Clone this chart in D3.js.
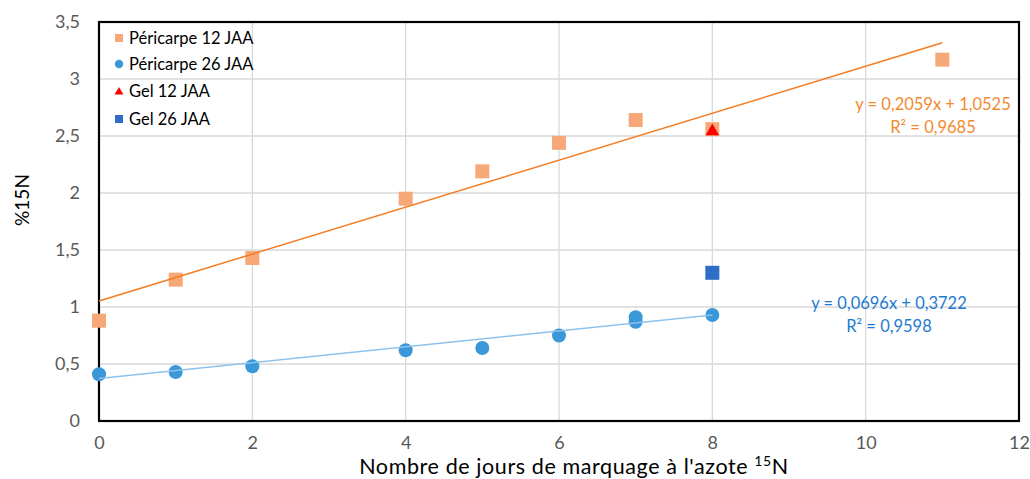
<!DOCTYPE html>
<html><head><meta charset="utf-8">
<script src="https://cdn.jsdelivr.net/npm/d3@7"></script>
<style>body{margin:0;background:#fff;} svg{display:block;font-family:Lato,"Open Sans",sans-serif;}</style>
</head><body>
<svg id="chart" width="1030" height="479"></svg>
<script>
// Data
const pericarpe12X = [0, 1, 2, 4, 5, 6, 7, 8, 11];
const pericarpe12Y = [0.88, 1.24, 1.43, 1.95, 2.19, 2.44, 2.64, 2.56, 3.17];
const pericarpe26X = [0, 1, 2, 4, 5, 6, 7, 7, 8];
const pericarpe26Y = [0.41, 0.43, 0.48, 0.62, 0.64, 0.75, 0.91, 0.87, 0.93];
const gel12X = [8];
const gel12Y = [2.55];
const gel26X = [8];
const gel26Y = [1.30];
const trend12 = {slope: 0.2059, intercept: 1.0525, x0: 0, x1: 11};
const trend26 = {slope: 0.0696, intercept: 0.3722, x0: 0, x1: 8};
const eq12 = ["y = 0,2059x + 1,0525", "R² = 0,9685"];
const eq26 = ["y = 0,0696x + 0,3722", "R² = 0,9598"];
const xTicks = [0, 2, 4, 6, 8, 10, 12];
const yTicks = [0, 0.5, 1, 1.5, 2, 2.5, 3, 3.5];
const legendLabels = ["Péricarpe 12 JAA", "Péricarpe 26 JAA", "Gel 12 JAA", "Gel 26 JAA"];

const svg = d3.select("#chart");
const L = 99, R = 1019, T = 22, B = 421;
const x = d3.scaleLinear().domain([0, 12]).range([L, R]);
const y = d3.scaleLinear().domain([0, 3.5]).range([B, T]);
const fmt = d => String(d).replace(".", ",");

// gridlines
svg.append("g").selectAll("line").data(yTicks).join("line")
  .attr("x1", L).attr("x2", R).attr("y1", d => y(d)).attr("y2", d => y(d))
  .attr("stroke", "#d9d9d9").attr("stroke-width", 1.3);
svg.append("g").selectAll("line").data(xTicks).join("line")
  .attr("y1", T).attr("y2", B).attr("x1", d => x(d)).attr("x2", d => x(d))
  .attr("stroke", "#d9d9d9").attr("stroke-width", 1.3);

// axes (labels only)
const yAxis = svg.append("g").attr("transform", `translate(${L},0)`)
  .call(d3.axisLeft(y).tickValues(yTicks).tickFormat(fmt).tickSize(0).tickPadding(19));
const xAxis = svg.append("g").attr("transform", `translate(0,${B})`)
  .call(d3.axisBottom(x).tickValues(xTicks).tickFormat(fmt).tickSize(0).tickPadding(15.5));
[yAxis, xAxis].forEach(a => {
  a.select(".domain").remove();
  a.selectAll("text").attr("fill", "#595959").style("font-size", "18px").style("font-family", "Lato, sans-serif");
});

// frame
svg.append("rect").attr("x", L).attr("y", T).attr("width", R - L).attr("height", B - T)
  .attr("fill", "none").attr("stroke", "#000").attr("stroke-width", 2.2);

// trendlines
function trend(t, color) {
  svg.append("line")
    .attr("x1", x(t.x0)).attr("y1", y(t.intercept + t.slope * t.x0))
    .attr("x2", x(t.x1)).attr("y2", y(t.intercept + t.slope * t.x1))
    .attr("stroke", color).attr("stroke-width", 1.5);
}

const c12 = "#F7A878", c26 = "#3B98D8", cg12 = "#FF0000", cg26 = "#2E6EC6";
const sq = 14, cr = 7;

// pericarpe 12 squares
svg.append("g").selectAll("rect").data(pericarpe12X.map((d, i) => [d, pericarpe12Y[i]])).join("rect")
  .attr("x", d => x(d[0]) - sq / 2).attr("y", d => y(d[1]) - sq / 2)
  .attr("width", sq).attr("height", sq).attr("fill", c12);
// pericarpe 26 circles
svg.append("g").selectAll("circle").data(pericarpe26X.map((d, i) => [d, pericarpe26Y[i]])).join("circle")
  .attr("cx", d => x(d[0])).attr("cy", d => y(d[1])).attr("r", cr).attr("fill", c26);

trend(trend12, "#F47B20");
trend(trend26, "#8EC2EC");

// gel 12 triangle
svg.append("g").selectAll("path").data(gel12X.map((d, i) => [d, gel12Y[i]])).join("path")
  .attr("d", d3.symbol(d3.symbolTriangle, 80))
  .attr("transform", d => `translate(${x(d[0])},${y(d[1]) + 1})`).attr("fill", cg12);
// gel 26 square
svg.append("g").selectAll("rect").data(gel26X.map((d, i) => [d, gel26Y[i]])).join("rect")
  .attr("x", d => x(d[0]) - sq / 2).attr("y", d => y(d[1]) - sq / 2)
  .attr("width", sq).attr("height", sq).attr("fill", cg26);

// equations
function eq(lines, cx, y0, color) {
  svg.append("g").selectAll("text").data(lines).join("text")
    .attr("x", cx).attr("y", (d, i) => y0 + i * 23).attr("text-anchor", "middle")
    .attr("fill", color).style("font-size", "16.5px").text(d => d);
}
eq(eq12, 933, 110, "#F28A2E");
eq(eq26, 889, 309, "#1E7AD0");

// legend
const lg = svg.append("g");
const rows = [38, 64, 91, 119];
const lcolors = [c12, c26, cg12, cg26];
legendLabels.forEach((lab, i) => {
  const cy = rows[i];
  if (i === 0 || i === 3) lg.append("rect").attr("x", 115).attr("y", cy - 4).attr("width", 8).attr("height", 8).attr("fill", lcolors[i]);
  else if (i === 1) lg.append("circle").attr("cx", 119).attr("cy", cy).attr("r", 4.2).attr("fill", lcolors[i]);
  else lg.append("path").attr("d", d3.symbol(d3.symbolTriangle, 34)).attr("transform", `translate(119,${cy + 1})`).attr("fill", lcolors[i]);
  lg.append("text").attr("x", 129).attr("y", cy + 6).attr("fill", "#000").style("font-size", "16.5px").text(lab);
});

// axis titles
const xt = svg.append("text").attr("x", 574).attr("y", 474.2).attr("text-anchor", "middle")
  .attr("fill", "#000").style("font-size", "21.5px").style("letter-spacing", "0.6px");
xt.append("tspan").text("Nombre de jours de marquage à l'azote ");
xt.append("tspan").attr("dy", -8).style("font-size", "14px").text("15");
xt.append("tspan").attr("dy", 8).text("N");

svg.append("text").attr("transform", "translate(29,200) rotate(-90)").attr("text-anchor", "middle")
  .attr("fill", "#000").style("font-size", "19px").text("%15N");
</script>
</body></html>
